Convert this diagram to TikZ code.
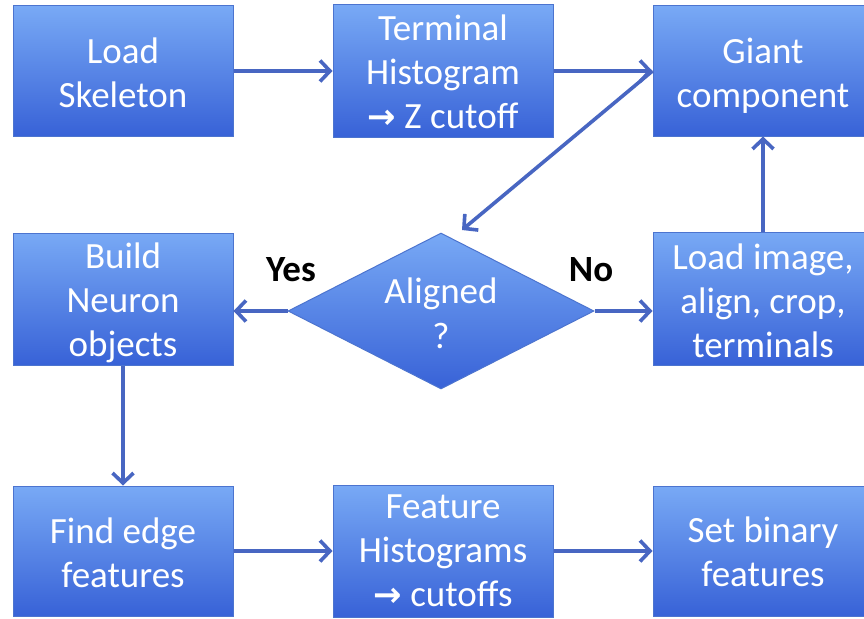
\documentclass[tikz,border=0pt]{standalone}
\usepackage{fontspec}
\setmainfont{Carlito}
\newfontfamily\arrowfont{DejaVu Sans}
\usetikzlibrary{shapes.geometric,arrows.meta}
\definecolor{boxtop}{HTML}{78A9F5}
\definecolor{boxbot}{HTML}{3862D7}
\definecolor{boxline}{HTML}{4C74CF}
\definecolor{arrowc}{HTML}{4866C2}
\newcommand{\myarrow}{{\arrowfont\bfseries\fontsize{34}{44}\selectfont →}}
\newcommand{\lines}[2]{\raisebox{-#1pt}[\height][\depth]{\begin{tabular}{@{}c@{}}#2\end{tabular}}}
\tikzset{
  procbox/.style={rectangle, draw=boxline, line width=1pt, top color=boxtop, bottom color=boxbot,
    minimum width=220pt, minimum height=130pt, inner sep=0pt, align=center, text=white,
    font=\fontsize{37}{44}\selectfont},
  decide/.style={diamond, draw=boxline, line width=1pt, top color=boxtop, bottom color=boxbot,
    minimum width=306pt, minimum height=156pt, aspect=1.96, inner sep=0pt, align=center, text=white,
    font=\fontsize{37}{45}\selectfont},
  flow/.style={draw=arrowc, line width=3.6pt, -{Straight Barb[length=10pt,width=21pt,line width=3.6pt]}},
  lbl/.style={text=black, font=\fontsize{37}{45}\selectfont\bfseries}
}
\begin{document}
\begin{tikzpicture}[x=1pt,y=-1pt]
\useasboundingbox (0,0) rectangle (864,618);
\clip (0,0) rectangle (864,618);
\fill[white] (0,0) rectangle (864,618);
\node[procbox] (load) at (123,71) {\lines{6}{Load\\Skeleton}};
\node[procbox] (term) at (443,71) {\lines{5}{Terminal\\Histogram\\\myarrow{} Z cutoff}};
\node[procbox] (giant) at (763,71) {\lines{6}{Giant\\component}};
\node[decide] (dia) at (441,311) {\lines{6}{Aligned\\?}};
\node[procbox] (build) at (123,299) {\lines{5}{Build\\Neuron\\objects}};
\node[procbox, minimum height=133pt] (img) at (763,298.5) {\lines{6}{Load image,\\align, crop,\\terminals}};
\node[procbox] (find) at (123,551) {\lines{6}{Find edge\\features}};
\node[procbox] (feat) at (443,551) {\lines{3}{Feature\\Histograms\\\myarrow{} cutoffs}};
\node[procbox] (bin) at (763,551) {\lines{5}{Set binary\\features}};
\coordinate (diatip) at (462,230);
\draw[flow] (load.east) -- (term.west);
\draw[flow] (term.east) -- (giant.west);
\draw[flow] (giant.west) -- (diatip);
\draw[flow] (img.north) -- (giant.south);
\draw[flow] (dia.west) -- (dia.west -| build.east);
\draw[flow] (dia.east) -- (dia.east -| img.west);
\draw[flow] (build.south) -- (find.north);
\draw[flow] (find.east) -- (feat.west);
\draw[flow] (feat.east) -- (bin.west);
\node[lbl] (yes) at (291,270) {Yes};
\node[lbl] (no) at (591,270) {No};
\end{tikzpicture}
\end{document}
